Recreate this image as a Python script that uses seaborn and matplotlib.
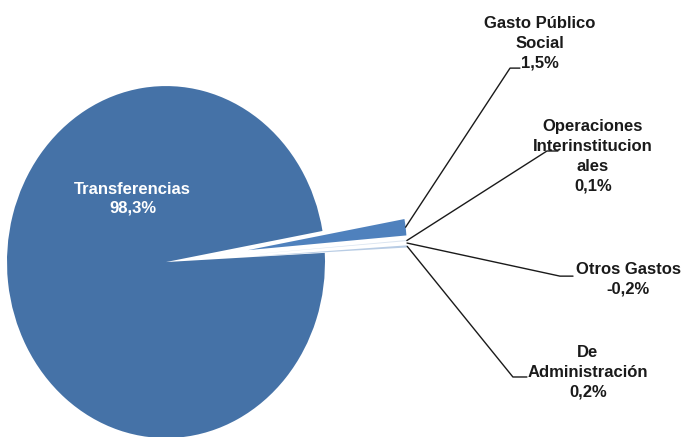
import numpy as np
import seaborn as sns
import matplotlib.pyplot as plt

# Distribución del gasto (participación %), pie with the small items pulled out

categorias = ['Transferencias', 'Gasto Público\nSocial', 'Operaciones\nInterinstitucion\nales',
              'Otros Gastos', 'De\nAdministración']
valores = [98.3, 1.5, 0.1, -0.2, 0.2]

sns.set_theme(style='white')
plt.rcParams['font.family'] = ['Liberation Sans', 'DejaVu Sans']

colores = ['#4572a7', '#4f81bd', '#dbe5f1', '#ffffff', '#b8cce4']
explode = [0, 0.52, 0.52, 0.52, 0.52]

fig = plt.figure(figsize=(6.87, 4.37), dpi=100)
ax = fig.add_axes([0, 0, 1, 1])
wedges, _ = ax.pie(np.abs(valores), colors=colores, explode=explode,
                   startangle=3, counterclock=False,
                   wedgeprops=dict(linewidth=0))
ax.set_aspect('auto')
ax.set_xlim(-1.044, 3.277)
ax.set_ylim(-0.994, 1.489)
ax.axis('off')


def fmt(v):
    return f'{v:.1f}%'.replace('.', ',')


# label for the big slice, inside
ax.text(-0.21, 0.36, f'{categorias[0]}\n{fmt(valores[0])}', color='white',
        fontsize=12, fontweight='bold', ha='center', va='center', linespacing=1.25)

# elbow of the leader line and text centre for the small slices
codos = [(2.164, 1.102, 2.226), (2.396, 0.631, 2.465), (2.478, -0.080, 2.560), (2.182, -0.653, 2.270)]
textos = [(2.352, 1.244), (2.686, 0.602), (2.906, -0.097), (2.654, -0.625)]

for i, w in enumerate(wedges[1:], start=1):
    mid = np.deg2rad((w.theta1 + w.theta2) / 2)
    cx, cy = w.center
    px, py = cx + w.r * np.cos(mid), cy + w.r * np.sin(mid)
    ex, ey, hx = codos[i - 1]
    ax.plot([px, ex, hx], [py, ey, ey], color='#1a1a1a', lw=1)
    tx, ty = textos[i - 1]
    ax.text(tx, ty, f'{categorias[i]}\n{fmt(valores[i])}', color='#1a1a1a',
            fontsize=12, fontweight='bold', ha='center', va='center', linespacing=1.4)

fig.savefig('out.png', dpi=100)
